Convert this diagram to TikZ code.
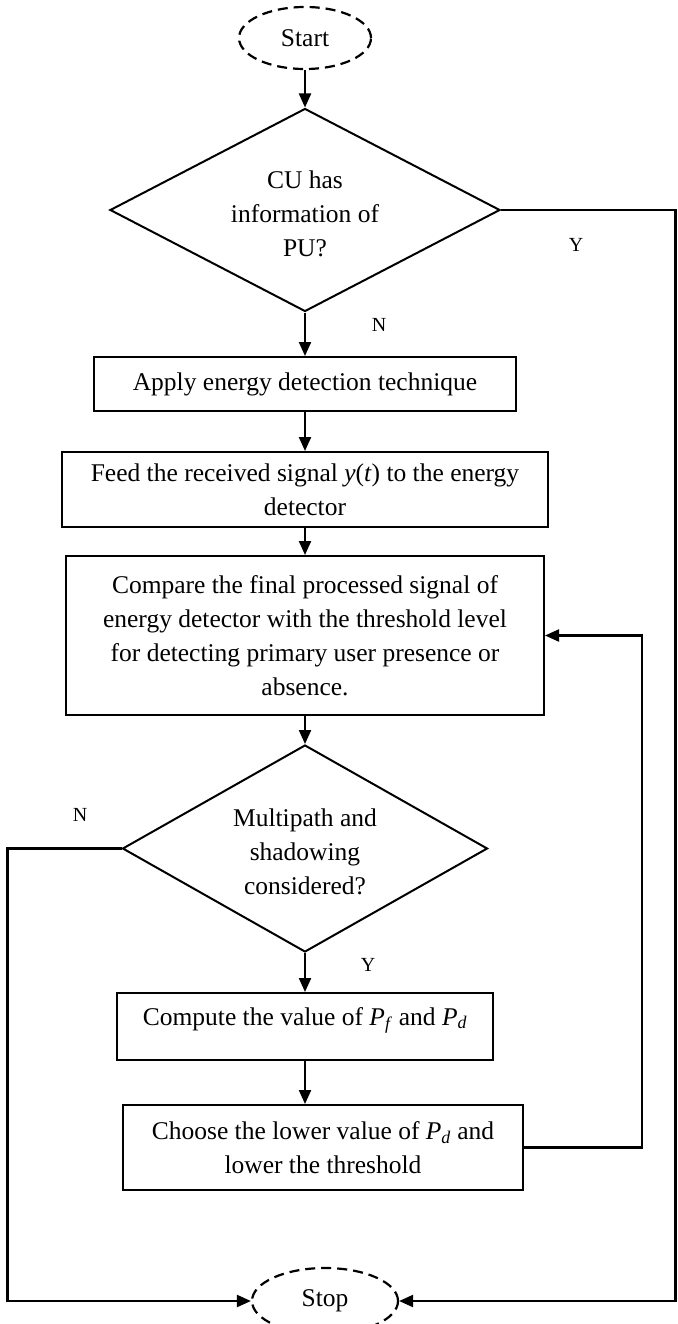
\documentclass[tikz,border=0pt]{standalone}
\usepackage{fontspec}
\setmainfont{Liberation Serif}
\usetikzlibrary{shapes.geometric,arrows.meta}
\begin{document}
\begin{tikzpicture}[x=1pt,y=-1pt,
  txt/.style={font=\fontsize{25.5}{34}\selectfont, align=center, inner sep=0pt},
  lbl/.style={font=\fontsize{20}{22}\selectfont, inner sep=0pt},
  procbox/.style={draw, line width=2pt, rectangle, inner sep=0pt, align=center,
    font=\fontsize{25.5}{34}\selectfont},
  decision/.style={draw, line width=2pt, diamond, inner sep=0pt},
  terminal/.style={draw, line width=2.2pt, ellipse, inner sep=0pt, dash pattern=on 10pt off 6pt,
    font=\fontsize{25.5}{34}\selectfont},
  conn/.style={line width=2.2pt, -{Triangle[length=14pt,width=12pt]}}
]
\useasboundingbox (0,0) rectangle (677,1324);

% terminals
\node[terminal, minimum width=132pt, minimum height=62pt] (start) at (305,38) {Start};
\node[terminal, minimum width=146pt, minimum height=66pt] (stop) at (325,1301) {Stop};

% decision 1
\node[decision, minimum width=390pt, minimum height=203pt] (d1) at (305,210) {};
\node[txt] (d1t) at (305,214) {CU has\\information of\\PU?};

% process boxes
\node[procbox, minimum width=422pt, minimum height=54pt] (b1) at (305,384) {Apply energy detection technique};
\node[procbox, minimum width=486pt, minimum height=75pt] (b2) at (305,489.5)
  {Feed the received signal \textit{y}(\textit{t}) to the energy\\detector};
\node[procbox, minimum width=478pt, minimum height=159pt] (b3) at (305,635.5)
  {Compare the final processed signal of\\energy detector with the threshold level\\for detecting primary user presence or\\absence.};

% decision 2
\node[decision, minimum width=365pt, minimum height=207pt] (d2) at (305,848.5) {};
\node[txt] (d2t) at (305,852) {Multipath and\\shadowing\\considered?};

\node[procbox, minimum width=376pt, minimum height=67pt] (b4) at (305,1026.5) {};
\node[txt] (b4t) at (305,1020)
  {Compute the value of \textit{P}\textsubscript{\textit{f}} and \textit{P}\textsubscript{\textit{d}}};
\node[procbox, minimum width=400pt, minimum height=85pt] (b5) at (323,1147.5)
  {Choose the lower value of \textit{P}\textsubscript{\textit{d}} and\\lower the threshold};

% helper coordinates
\coordinate (rt) at (675.5,0);
\coordinate (lt) at (7.5,0);
\coordinate (fb) at (642,0);

% labels
\node[lbl] (ly1) at (576,245) {Y};
\node[lbl] (ln1) at (379,325) {N};
\node[lbl] (ln2) at (80,815) {N};
\node[lbl] (ly2) at (368,965) {Y};

% connectors
\draw[conn] (start.south) -- (d1.north);
\draw[conn] (d1.south) -- (b1.north);
\draw[conn] (b1.south) -- (b2.north);
\draw[conn] (b2.south) -- (b3.north);
\draw[conn] (b3.south) -- (d2.north);
\draw[conn] (d2.south) -- (b4.north);
\draw[conn] (b4.south) -- (b4.south |- b5.north);
\draw[conn] (b5.east) -- (b5.east -| fb) -- (fb |- b3.east) -- (b3.east);
\draw[conn] (d1.east) -- (d1.east -| rt) -- (rt |- stop.east) -- (stop.east);
\draw[conn] (d2.west) -- (d2.west -| lt) -- (lt |- stop.west) -- (stop.west);
\end{tikzpicture}
\end{document}
